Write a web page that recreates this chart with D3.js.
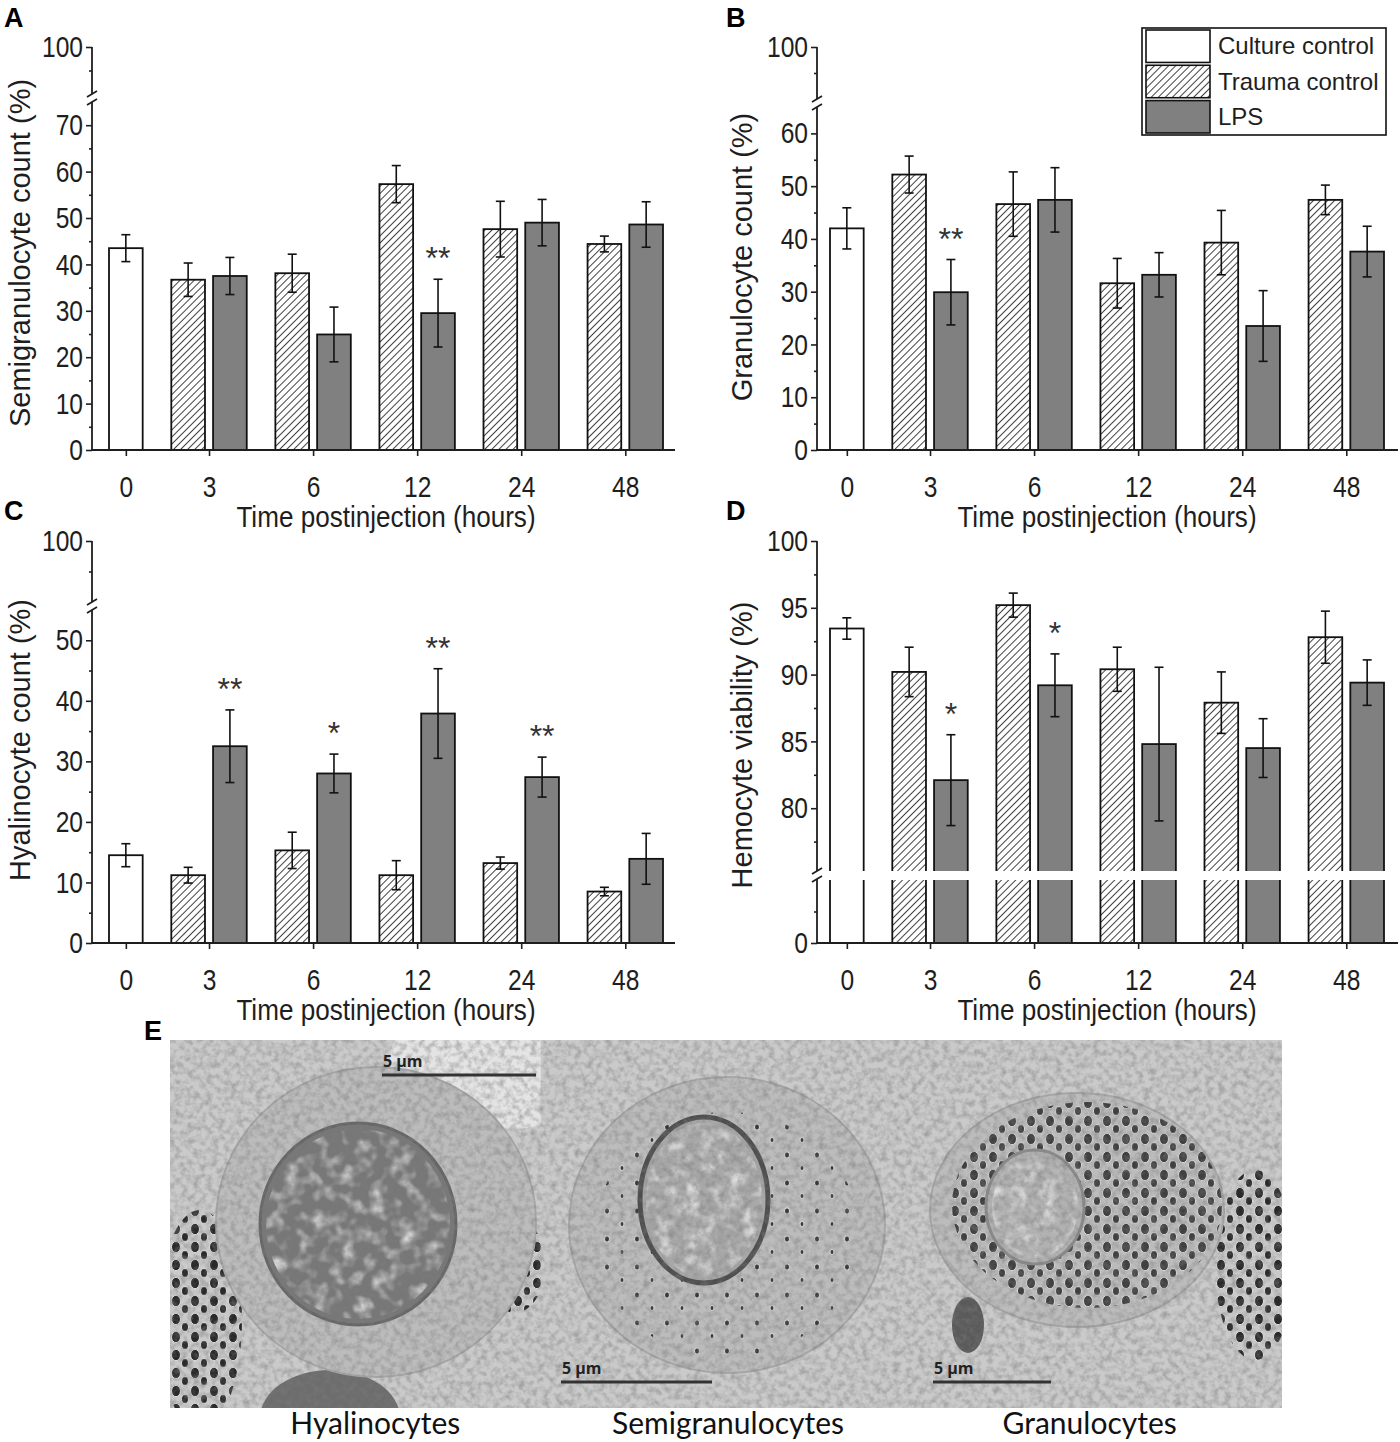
<!DOCTYPE html>
<html>
<head>
<meta charset="utf-8">
<script src="https://cdn.jsdelivr.net/npm/d3@7"></script>
<style>
  body { margin: 0; background: #fff; }
  svg { display: block; }
</style>
</head>
<body>
<svg id="fig" width="1400" height="1442"></svg>
<script>
const groups = ["0", "3", "6", "12", "24", "48"];
const seriesNames = ["Culture control", "Trauma control", "LPS"];

// A - semigranulocytes (group "0" has only culture control, others trauma + LPS)
const semiCulture = [43.5], semiCultureErr = [2.9];
const semiTrauma = [36.7, 38.1, 57.3, 47.6, 44.4];
const semiTraumaErr = [3.6, 4.1, 4.0, 6.0, 1.7];
const semiLPS = [37.5, 24.9, 29.5, 49.0, 48.6];
const semiLPSErr = [4.0, 5.9, 7.3, 5.0, 4.9];
const semiStars = ["", "", "**", "", ""];
const semiTicks = [0, 10, 20, 30, 40, 50, 60, 70];

// B - granulocytes
const granCulture = [42.0], granCultureErr = [3.9];
const granTrauma = [52.2, 46.6, 31.6, 39.3, 47.4];
const granTraumaErr = [3.5, 6.1, 4.7, 6.1, 2.8];
const granLPS = [29.9, 47.4, 33.2, 23.5, 37.6];
const granLPSErr = [6.2, 6.1, 4.2, 6.7, 4.8];
const granStars = ["**", "", "", "", ""];
const granTicks = [0, 10, 20, 30, 40, 50, 60];

// C - hyalinocytes
const hyalCulture = [14.5], hyalCultureErr = [1.9];
const hyalTrauma = [11.2, 15.3, 11.2, 13.2, 8.5];
const hyalTraumaErr = [1.3, 3.0, 2.4, 1.0, 0.7];
const hyalLPS = [32.5, 28.0, 37.9, 27.4, 13.9];
const hyalLPSErr = [6.0, 3.2, 7.4, 3.3, 4.2];
const hyalStars = ["**", "*", "**", "**", ""];
const hyalTicks = [0, 10, 20, 30, 40, 50];

// D - hemocyte viability
const viabCulture = [93.45], viabCultureErr = [0.8];
const viabTrauma = [90.2, 95.2, 90.4, 87.9, 92.8];
const viabTraumaErr = [1.85, 0.9, 1.65, 2.3, 1.95];
const viabLPS = [82.1, 89.2, 84.8, 84.5, 89.4];
const viabLPSErr = [3.4, 2.35, 5.75, 2.2, 1.7];
const viabStars = ["*", "*", "", "", ""];
const viabTicks = [80, 85, 90, 95, 100];

const cellLabels = ["Hyalinocytes", "Semigranulocytes", "Granulocytes"];

const fontR = "'Liberation Sans', Arial, sans-serif";
const ink = "#1e1e1e";
const lpsGray = "#808080";
const narrow = 0.82;   // squeeze for the Arial-Narrow look of tick labels

const svg = d3.select("#fig");
const defs = svg.append("defs");

// diagonal hatch for trauma control
defs.append("pattern")
    .attr("id", "hatch")
    .attr("patternUnits", "userSpaceOnUse")
    .attr("width", 5).attr("height", 5)
    .attr("patternTransform", "rotate(45)")
    .call(p => {
        p.append("rect").attr("width", 5).attr("height", 5).attr("fill", "#fff");
        p.append("line").attr("x1", 0).attr("y1", 0).attr("x2", 0).attr("y2", 5)
            .attr("stroke", "#111").attr("stroke-width", 1.6);
    });

function fillFor(s) {
    return s === 0 ? "#fff" : s === 1 ? "url(#hatch)" : lpsGray;
}

// build the list of bars for one panel
function barRecords(culture, cultureErr, trauma, traumaErr, lps, lpsErr, stars) {
    const recs = [{ group: groups[0], s: 0, v: culture[0], e: cultureErr[0], star: "" }];
    groups.slice(1).forEach((g, i) => {
        recs.push({ group: g, s: 1, v: trauma[i], e: traumaErr[i], star: "" });
        recs.push({ group: g, s: 2, v: lps[i], e: lpsErr[i], star: stars[i] });
    });
    return recs;
}

// bar slots in "bar width" units
const gapIn = 0.24, gapOut = 0.85;
function layoutUnits(recs) {
    let u = 0, prev = null;
    recs.forEach(r => {
        if (prev !== null) u += (prev === r.group) ? gapIn : gapOut;
        r.u0 = u; u += 1; r.u1 = u;
        prev = r.group;
    });
    return u;
}

const panels = [
    {
        letter: "A", lx: 4, ly: 27, title: "Semigranulocyte count (%)", titleX: 30, titleY: 253,
        recs: barRecords(semiCulture, semiCultureErr, semiTrauma, semiTraumaErr, semiLPS, semiLPSErr, semiStars),
        axisX: 92, bar0: 109, bar1: 663, axisEnd: 675, yZero: 450, yTop: 47, brk: 98,
        lowMax: 75, lowTicks: semiTicks, upMin: 90
    },
    {
        letter: "B", lx: 726, ly: 27, title: "Granulocyte count (%)", titleX: 752, titleY: 257,
        recs: barRecords(granCulture, granCultureErr, granTrauma, granTraumaErr, granLPS, granLPSErr, granStars),
        axisX: 817, bar0: 830, bar1: 1384, axisEnd: 1398, yZero: 450, yTop: 47, brk: 103,
        lowMax: 65, lowTicks: granTicks, upMin: 90, legend: true
    },
    {
        letter: "C", lx: 4, ly: 520, title: "Hyalinocyte count (%)", titleX: 30, titleY: 740,
        recs: barRecords(hyalCulture, hyalCultureErr, hyalTrauma, hyalTraumaErr, hyalLPS, hyalLPSErr, hyalStars),
        axisX: 92, bar0: 109, bar1: 663, axisEnd: 675, yZero: 943, yTop: 541, brk: 606,
        lowMax: 55, lowTicks: hyalTicks, upMin: 90
    },
    {
        letter: "D", lx: 726, ly: 520, title: "Hemocyte viability (%)", titleX: 752, titleY: 745,
        recs: barRecords(viabCulture, viabCultureErr, viabTrauma, viabTraumaErr, viabLPS, viabLPSErr, viabStars),
        axisX: 817, bar0: 830, bar1: 1384, axisEnd: 1398, yZero: 943, yTop: 541, brk: 875,
        viability: true
    }
];

function styleAxis(g) {
    g.select(".domain").remove();
    g.selectAll("line").attr("stroke", ink).attr("stroke-width", 1.6);
    g.selectAll("text").attr("fill", ink)
        .style("font-family", fontR).style("font-size", "30px")
        .attr("transform", `scale(${narrow},1)`);
}

function drawPanel(p) {
    const g = svg.append("g");
    const total = layoutUnits(p.recs);
    const x = d3.scaleLinear().domain([0, total]).range([p.bar0, p.bar1]);

    let low, up, yv;
    if (p.viability) {
        up = d3.scaleLinear().domain([75.3, 100]).range([p.brk - 4, p.yTop]);
        low = d3.scaleLinear().domain([0, 10]).range([p.yZero, p.brk + 5]);
        yv = v => up(v);
    } else {
        up = d3.scaleLinear().domain([p.upMin, 100]).range([p.brk - 4, p.yTop]);
        low = d3.scaleLinear().domain([0, p.lowMax]).range([p.yZero, p.brk + 4]);
        yv = v => low(v);
    }

    // bars
    g.append("g").selectAll("rect")
        .data(p.recs)
        .join("rect")
        .attr("x", d => x(d.u0))
        .attr("y", d => yv(d.v))
        .attr("width", d => x(d.u1) - x(d.u0))
        .attr("height", d => low(0) - yv(d.v))
        .attr("fill", d => fillFor(d.s))
        .attr("stroke", "#111")
        .attr("stroke-width", 1.8);

    // error bars
    const eb = g.append("g").attr("stroke", "#111").attr("stroke-width", 1.6);
    const cx = d => (x(d.u0) + x(d.u1)) / 2;
    eb.selectAll("line.v").data(p.recs).join("line").attr("class", "v")
        .attr("x1", cx).attr("x2", cx)
        .attr("y1", d => yv(d.v - d.e)).attr("y2", d => yv(d.v + d.e));
    ["lo", "hi"].forEach(k => {
        eb.selectAll("line." + k).data(p.recs).join("line").attr("class", k)
            .attr("x1", d => cx(d) - 4.5).attr("x2", d => cx(d) + 4.5)
            .attr("y1", d => yv(k === "lo" ? d.v - d.e : d.v + d.e))
            .attr("y2", d => yv(k === "lo" ? d.v - d.e : d.v + d.e));
    });

    // significance stars
    g.append("g").selectAll("text")
        .data(p.recs.filter(d => d.star))
        .join("text")
        .attr("x", cx)
        .attr("y", d => yv(d.v + d.e) - 10)
        .attr("text-anchor", "middle")
        .attr("fill", "#333")
        .style("font-family", fontR)
        .style("font-size", "32px")
        .text(d => d.star);

    // viability break band across the bars
    if (p.viability) {
        g.append("rect")
            .attr("x", p.axisX + 2).attr("y", p.brk - 4)
            .attr("width", p.axisEnd - p.axisX).attr("height", 9)
            .attr("fill", "#fff");
    }

    // y axes (upper and lower segment)
    const upTicks = p.viability ? viabTicks : [100];
    const upMinor = p.viability ? d3.range(77.5, 100, 5) : [95];
    const lowTicks = p.viability ? [0] : p.lowTicks;
    const lowMinor = p.viability ? [5] : p.lowTicks.map(t => t + 5).filter(t => t < p.lowMax);

    const yAx = g.append("g").attr("transform", `translate(${p.axisX},0)`);
    yAx.append("g").call(d3.axisLeft(up).tickValues(upTicks).tickSize(6).tickPadding(5)).call(styleAxis);
    yAx.append("g").call(d3.axisLeft(up).tickValues(upMinor).tickSize(3).tickFormat("")).call(styleAxis);
    yAx.append("g").call(d3.axisLeft(low).tickValues(lowTicks).tickSize(6).tickPadding(5)).call(styleAxis);
    yAx.append("g").call(d3.axisLeft(low).tickValues(lowMinor).tickSize(3).tickFormat("")).call(styleAxis);

    const axLine = g.append("g").attr("stroke", ink).attr("stroke-width", 1.8).attr("fill", "none");
    axLine.append("line").attr("x1", p.axisX).attr("x2", p.axisX).attr("y1", p.yTop).attr("y2", p.brk - 4);
    axLine.append("line").attr("x1", p.axisX).attr("x2", p.axisX).attr("y1", p.brk + 4).attr("y2", p.yZero);
    [-4, 4].forEach(o => {
        axLine.append("line")
            .attr("x1", p.axisX - 5).attr("y1", p.brk + o + 3)
            .attr("x2", p.axisX + 5).attr("y2", p.brk + o - 3);
    });

    // x axis
    const centers = groups.map(gr => {
        const rs = p.recs.filter(r => r.group === gr);
        return (x(rs[0].u0) + x(rs[rs.length - 1].u1)) / 2;
    });
    const xc = d3.scaleOrdinal().domain(groups).range(centers);
    g.append("g")
        .attr("transform", `translate(0,${p.yZero})`)
        .call(d3.axisBottom(xc).tickSize(6).tickPadding(20))
        .call(styleAxis);
    axLine.append("line").attr("x1", p.axisX - 1).attr("x2", p.axisEnd).attr("y1", p.yZero).attr("y2", p.yZero);

    // titles
    g.append("text")
        .attr("transform", `translate(${(p.bar0 + p.bar1) / 2},${p.yZero + 77}) scale(0.9,1)`)
        .attr("text-anchor", "middle").attr("fill", ink)
        .style("font-family", fontR).style("font-size", "29px")
        .text("Time postinjection (hours)");
    g.append("text")
        .attr("transform", `translate(${p.titleX},${p.titleY}) rotate(-90)`)
        .attr("text-anchor", "middle").attr("fill", ink)
        .style("font-family", fontR).style("font-size", "29px")
        .text(p.title);
    svg.append("text")
        .attr("x", p.lx).attr("y", p.ly)
        .attr("fill", "#000").style("font-family", fontR)
        .style("font-size", "27px").style("font-weight", "bold")
        .text(p.letter);

    if (p.legend) {
        const lg = g.append("g").attr("transform", "translate(1142,28)");
        lg.append("rect").attr("width", 244).attr("height", 107)
            .attr("fill", "#fff").attr("stroke", "#111").attr("stroke-width", 1.6);
        const row = d3.scaleBand().domain(seriesNames).range([2, 105]).paddingInner(0.08);
        lg.selectAll("rect.sw").data(seriesNames).join("rect").attr("class", "sw")
            .attr("x", 4).attr("y", d => row(d))
            .attr("width", 64).attr("height", row.bandwidth())
            .attr("fill", (d, i) => fillFor(i))
            .attr("stroke", "#111").attr("stroke-width", 1.6);
        lg.selectAll("text").data(seriesNames).join("text")
            .attr("x", 76).attr("y", d => row(d) + row.bandwidth() / 2 + 8)
            .attr("fill", ink).style("font-family", fontR).style("font-size", "24px")
            .text(d => d);
    }
}

panels.forEach(drawPanel);

// ---- panel E: stylised electron micrographs ----
const E = { x0: 170, x1: 1282, y0: 1040, y1: 1408 };
const imgX = d3.scaleBand().domain(cellLabels).range([E.x0, E.x1]);

const grain = defs.append("filter").attr("id", "grain")
    .attr("x", 0).attr("y", 0).attr("width", 1).attr("height", 1);
grain.append("feTurbulence").attr("type", "fractalNoise")
    .attr("baseFrequency", 0.16).attr("numOctaves", 3).attr("seed", 7);
grain.append("feColorMatrix").attr("type", "matrix")
    .attr("values", "0 0 0 0 0.2  0 0 0 0 0.2  0 0 0 0 0.2  1.1 0 0 0 -0.42");
grain.append("feComposite").attr("in2", "SourceGraphic").attr("operator", "in");

const speck = defs.append("filter").attr("id", "speck")
    .attr("x", 0).attr("y", 0).attr("width", 1).attr("height", 1);
speck.append("feTurbulence").attr("type", "fractalNoise")
    .attr("baseFrequency", 0.07).attr("numOctaves", 2).attr("seed", 3);
speck.append("feColorMatrix").attr("type", "matrix")
    .attr("values", "0 0 0 0 0.9  0 0 0 0 0.9  0 0 0 0 0.9  1.8 0 0 0 -0.8");
speck.append("feComposite").attr("in2", "SourceGraphic").attr("operator", "in");

function granPattern(id, w, h, dots) {
    const pt = defs.append("pattern").attr("id", id)
        .attr("patternUnits", "userSpaceOnUse").attr("width", w).attr("height", h);
    dots.forEach(([cx, cy, r]) => pt.append("ellipse")
        .attr("cx", cx).attr("cy", cy).attr("rx", r).attr("ry", r * 1.25)
        .attr("fill", "#2a2a2a").attr("stroke", "#ddd").attr("stroke-width", 1));
}
granPattern("granDense", 19, 18, [[5, 5, 4.5], [14, 13, 3.5]]);
granPattern("granSparse", 30, 28, [[7, 7, 2.5], [22, 20, 2]]);

const eg = svg.append("g");
eg.append("rect").attr("x", E.x0).attr("y", E.y0)
    .attr("width", E.x1 - E.x0).attr("height", E.y1 - E.y0).attr("fill", "#cacaca");

const cells = [
    { name: "Hyalinocytes", cell: [376, 1222, 160, 155], nuc: [358, 1224, 98, 101], nucFill: "#777", nucStroke: "#666" },
    { name: "Semigranulocytes", cell: [727, 1225, 158, 148], nuc: [704, 1200, 64, 83], nucFill: "#a8a8a8", nucStroke: "#4e4e4e" },
    { name: "Granulocytes", cell: [1077, 1210, 147, 117], nuc: [1035, 1207, 49, 57], nucFill: "#b1b1b1", nucStroke: "#8a8a8a" }
];

cells.forEach((c, i) => {
    const id = "clipE" + i;
    defs.append("clipPath").attr("id", id).append("rect")
        .attr("x", imgX(c.name)).attr("y", E.y0)
        .attr("width", imgX.bandwidth()).attr("height", E.y1 - E.y0);
    const cg = eg.append("g").attr("clip-path", `url(#${id})`);
    if (i === 0) {
        cg.append("ellipse").attr("cx", 500).attr("cy", 1060).attr("rx", 110).attr("ry", 70).attr("fill", "#e4e4e4");
        cg.append("ellipse").attr("cx", 200).attr("cy", 1320).attr("rx", 42).attr("ry", 110).attr("fill", "url(#granDense)");
        cg.append("ellipse").attr("cx", 515).attr("cy", 1265).attr("rx", 30).attr("ry", 48).attr("fill", "url(#granDense)");
        cg.append("ellipse").attr("cx", 330).attr("cy", 1418).attr("rx", 70).attr("ry", 48).attr("fill", "#6d6d6d");
    }
    if (i === 2) {
        cg.append("ellipse").attr("cx", 1255).attr("cy", 1265).attr("rx", 40).attr("ry", 95).attr("fill", "url(#granDense)");
        cg.append("ellipse").attr("cx", 968).attr("cy", 1325).attr("rx", 16).attr("ry", 28).attr("fill", "#5a5a5a");
    }
    const [ccx, ccy, crx, cry] = c.cell;
    cg.append("ellipse").attr("cx", ccx).attr("cy", ccy).attr("rx", crx).attr("ry", cry)
        .attr("fill", "#bcbcbc").attr("stroke", "#a6a6a6").attr("stroke-width", 2);
    if (i === 1) {
        cg.append("ellipse").attr("cx", ccx).attr("cy", ccy + 10).attr("rx", crx - 25).attr("ry", cry - 25)
            .attr("fill", "url(#granSparse)").attr("opacity", 0.9);
    }
    if (i === 2) {
        cg.append("ellipse").attr("cx", ccx + 10).attr("cy", ccy - 5).attr("rx", crx - 12).attr("ry", cry - 14)
            .attr("fill", "url(#granDense)").attr("opacity", 0.85);
    }
    const [ncx, ncy, nrx, nry] = c.nuc;
    cg.append("ellipse").attr("cx", ncx).attr("cy", ncy).attr("rx", nrx).attr("ry", nry)
        .attr("fill", c.nucFill).attr("stroke", c.nucStroke).attr("stroke-width", i === 1 ? 5 : 3);
    cg.append("ellipse").attr("cx", ncx).attr("cy", ncy).attr("rx", nrx - 6).attr("ry", nry - 6)
        .attr("fill", "#fff").attr("filter", "url(#speck)");
});
eg.append("rect").attr("x", E.x0).attr("y", E.y0)
    .attr("width", E.x1 - E.x0).attr("height", E.y1 - E.y0)
    .attr("fill", "#fff").attr("filter", "url(#grain)");

// scale bars
const scaleBars = [
    { name: "Hyalinocytes", x: 382, w: 154, y: 1075 },
    { name: "Semigranulocytes", x: 561, w: 151, y: 1382 },
    { name: "Granulocytes", x: 933, w: 118, y: 1382 }
];
scaleBars.forEach(b => {
    eg.append("line").attr("x1", b.x).attr("x2", b.x + b.w).attr("y1", b.y).attr("y2", b.y)
        .attr("stroke", "#333").attr("stroke-width", 3);
    eg.append("text").attr("x", b.x + 1).attr("y", b.y - 8)
        .attr("fill", "#222").style("font-family", "'Open Sans', sans-serif")
        .style("font-size", "16px").style("font-weight", "bold").text("5 µm");
});

const captionDx = [20, 2, -7];
eg.selectAll("text.cap").data(cellLabels).join("text").attr("class", "cap")
    .attr("x", (d, i) => imgX(d) + imgX.bandwidth() / 2 + captionDx[i]).attr("y", 1434)
    .attr("text-anchor", "middle").attr("fill", "#111")
    .style("font-family", "Lato, 'Open Sans', sans-serif").style("font-size", "30px")
    .text(d => d);

svg.append("text").attr("x", 144).attr("y", 1040)
    .attr("fill", "#000").style("font-family", fontR)
    .style("font-size", "27px").style("font-weight", "bold").text("E");
</script>
</body>
</html>
